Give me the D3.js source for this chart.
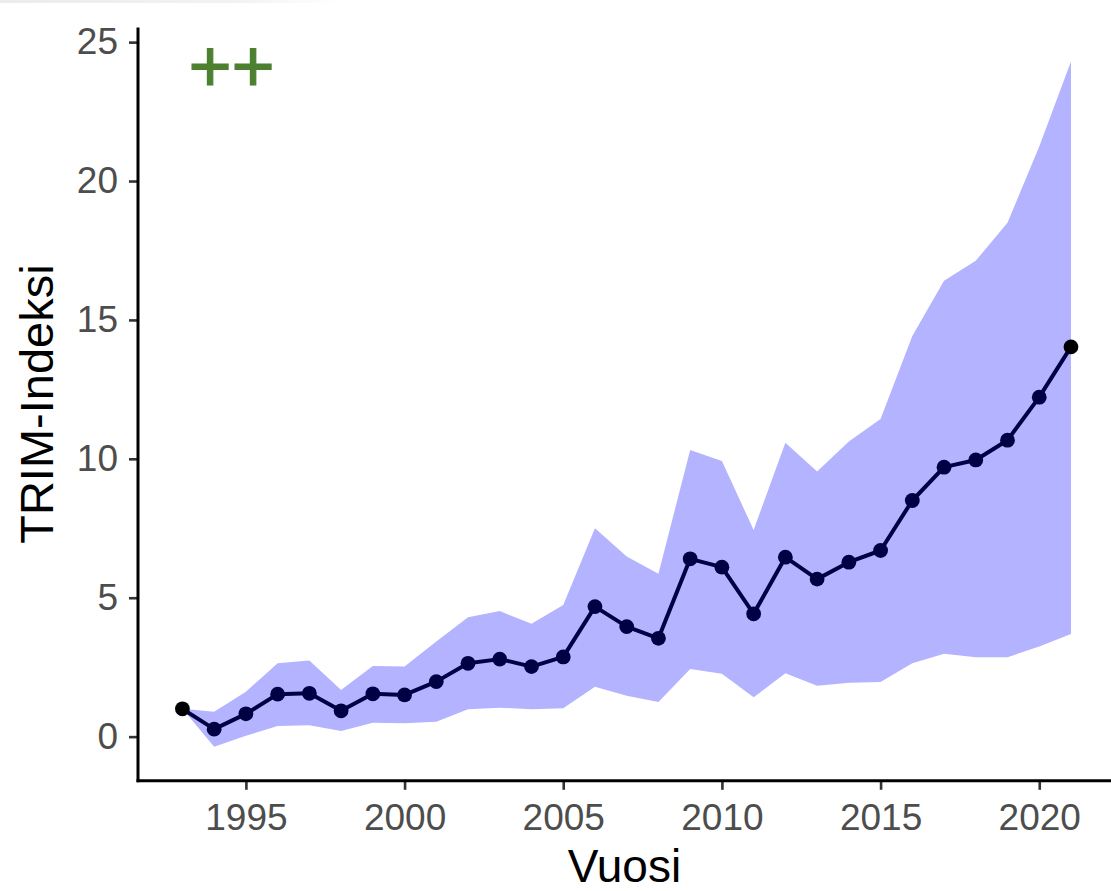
<!DOCTYPE html>
<html>
<head>
<meta charset="utf-8">
<script src="https://cdn.jsdelivr.net/npm/d3@7"></script>
<style>
  html, body { margin: 0; padding: 0; background: #fff; }
  svg { display: block; }
  text { font-family: "Liberation Sans", Arial, Helvetica, sans-serif; }
</style>
</head>
<body>
<svg id="chart" width="1111" height="891"></svg>
<script>
// ---- data ----
const years = [1993,1994,1995,1996,1997,1998,1999,2000,2001,2002,2003,2004,2005,2006,2007,
               2008,2009,2010,2011,2012,2013,2014,2015,2016,2017,2018,2019,2020,2021];
const index = [1.00,0.27,0.82,1.53,1.56,0.93,1.54,1.50,1.98,2.64,2.79,2.52,2.87,4.68,3.96,
               3.54,6.40,6.10,4.42,6.46,5.67,6.28,6.70,8.50,9.70,9.96,10.67,12.22,14.03];
const upper = [1.00,0.90,1.62,2.64,2.74,1.68,2.54,2.52,3.42,4.30,4.52,4.06,4.74,7.50,6.48,
               5.86,10.32,9.92,7.44,10.58,9.54,10.62,11.43,14.42,16.41,17.13,18.50,21.24,24.30];
const lower = [1.00,-0.36,0.03,0.38,0.41,0.20,0.50,0.48,0.54,0.99,1.04,0.99,1.02,1.80,1.47,
               1.25,2.43,2.26,1.42,2.28,1.83,1.94,1.97,2.64,2.98,2.86,2.86,3.24,3.69];
const xTicks = [1995,2000,2005,2010,2015,2020];
const yTicks = [0,5,10,15,20,25];
const xTitle = "Vuosi";
const yTitle = "TRIM-Indeksi";
const trendLabel = "++";
const trendPos = {year: 1994.55, value: 24.0};

// ---- layout ----
const svg = d3.select("#chart");
const panel = {left: 138, right: 1115.4, top: 27.4, bottom: 780.8};

// faint strip at very top of the reference image
const defs = svg.append("defs");
const grad = defs.append("linearGradient").attr("id", "topstrip");
grad.append("stop").attr("offset", "0%").attr("stop-color", "#ececec");
grad.append("stop").attr("offset", "70%").attr("stop-color", "#f2f2f2");
grad.append("stop").attr("offset", "100%").attr("stop-color", "#ffffff");
svg.append("rect").attr("x", 0).attr("y", 0).attr("width", 340).attr("height", 3)
   .attr("fill", "url(#topstrip)");

const x = d3.scaleLinear().domain([1991.6, 2022.4]).range([panel.left, panel.right]);
const y = d3.scaleLinear().domain([-1.59, 25.53]).range([panel.bottom, panel.top]);

const rows = years.map((yr, i) => ({year: yr, v: index[i], lo: lower[i], hi: upper[i]}));

// ribbon
svg.append("path")
  .datum(rows)
  .attr("fill", "#b3b3ff")
  .attr("d", d3.area().x(d => x(d.year)).y0(d => y(d.lo)).y1(d => y(d.hi)));

// line
svg.append("path")
  .datum(rows)
  .attr("fill", "none")
  .attr("stroke", "#000045")
  .attr("stroke-width", 4)
  .attr("stroke-linejoin", "round")
  .attr("d", d3.line().x(d => x(d.year)).y(d => y(d.v)));

// points
svg.append("g").selectAll("circle")
  .data(rows)
  .join("circle")
  .attr("cx", d => x(d.year))
  .attr("cy", d => y(d.v))
  .attr("r", 7.4)
  .attr("fill", (d, i) => (i === 0 || i === rows.length - 1) ? "#000000" : "#000045");

// axes
const yAxis = svg.append("g")
  .attr("transform", `translate(${panel.left},0)`)
  .call(d3.axisLeft(y).tickValues(yTicks).tickSize(9).tickPadding(11).tickFormat(d3.format("d")));
const xAxis = svg.append("g")
  .attr("transform", `translate(0,${panel.bottom})`)
  .call(d3.axisBottom(x).tickValues(xTicks).tickSize(9).tickPadding(14).tickFormat(d3.format("d")));

[yAxis, xAxis].forEach(g => {
  g.select(".domain").remove();
  g.selectAll(".tick line").attr("stroke", "#333333").attr("stroke-width", 2.6);
  g.selectAll(".tick text").attr("fill", "#4d4d4d").attr("font-size", 37)
    .attr("font-family", "Liberation Sans, Arial, sans-serif");
});

// axis lines
svg.append("line").attr("x1", panel.left).attr("x2", panel.left)
  .attr("y1", panel.top).attr("y2", panel.bottom + 1.5)
  .attr("stroke", "#000").attr("stroke-width", 3);
svg.append("line").attr("x1", panel.left - 1.5).attr("x2", 1111)
  .attr("y1", panel.bottom).attr("y2", panel.bottom)
  .attr("stroke", "#000").attr("stroke-width", 3);

// axis titles
svg.append("text")
  .attr("x", (panel.left + 1111) / 2).attr("y", 882)
  .attr("text-anchor", "middle").attr("font-size", 46).attr("fill", "#000")
  .text(xTitle);
svg.append("text")
  .attr("transform", `translate(53,${(panel.top + panel.bottom) / 2}) rotate(-90)`)
  .attr("text-anchor", "middle").attr("font-size", 47).attr("fill", "#000")
  .text(yTitle);

// trend annotation
svg.append("text")
  .attr("x", x(trendPos.year)).attr("y", y(trendPos.value))
  .attr("dy", "0.30em")
  .attr("text-anchor", "middle").attr("font-size", 74).attr("fill", "#4d8031")
  .attr("stroke", "#4d8031").attr("stroke-width", 1.2)
  .text(trendLabel);
</script>
</body>
</html>
